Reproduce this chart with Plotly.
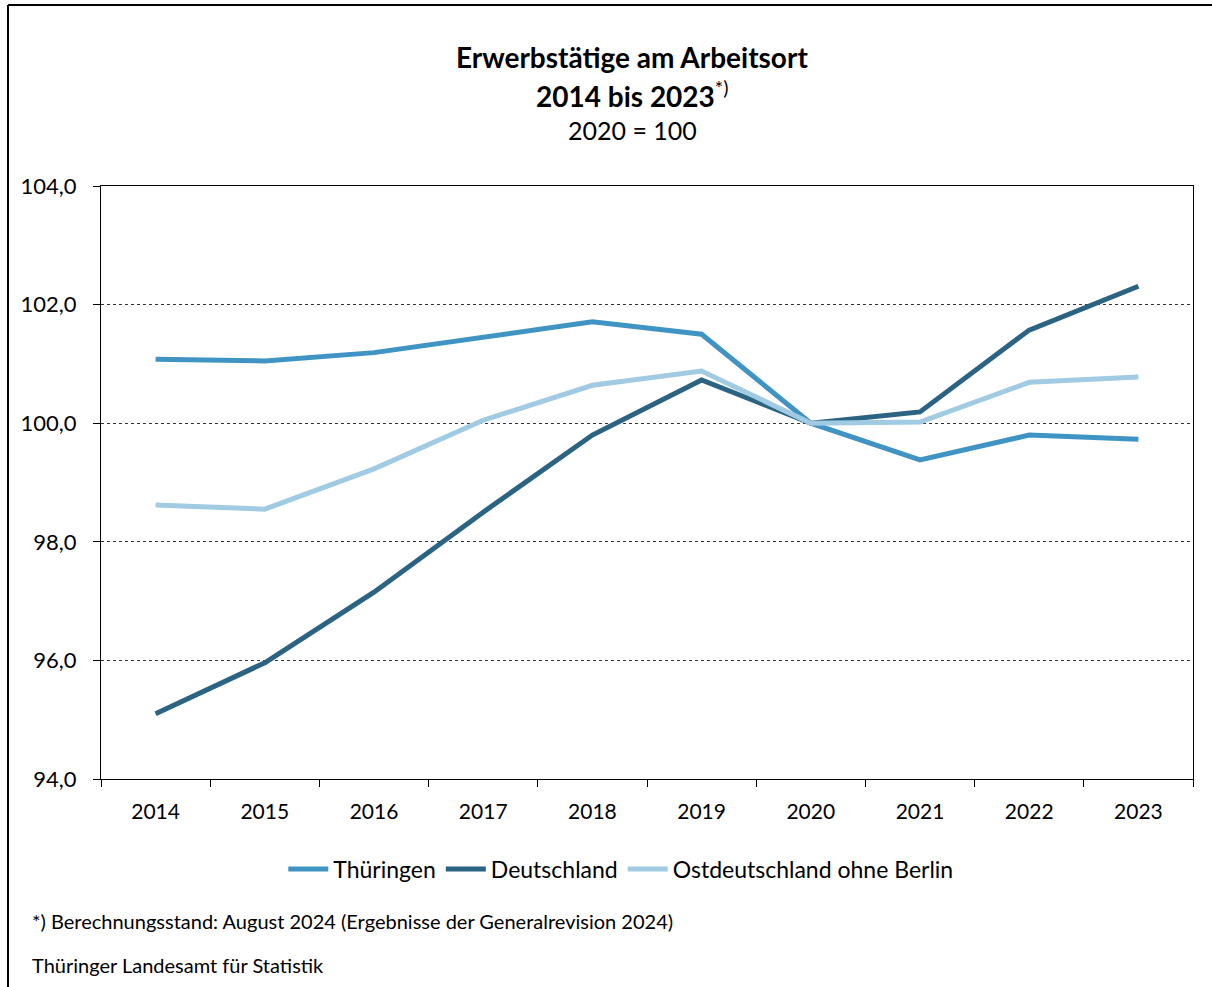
import plotly.graph_objects as go

years = ["2014", "2015", "2016", "2017", "2018", "2019", "2020", "2021", "2022", "2023"]
thueringen = [101.08, 101.05, 101.19, 101.45, 101.71, 101.50, 100.0, 99.38, 99.80, 99.73]
deutschland = [95.10, 95.96, 97.15, 98.50, 99.80, 100.73, 100.0, 100.19, 101.57, 102.31]
ost = [98.62, 98.55, 99.23, 100.05, 100.64, 100.88, 100.0, 100.02, 100.69, 100.78]

FONT = "Source Sans Pro, Lato, Roboto, sans-serif"

fig = go.Figure()
series = [
    ("Thüringen", thueringen, "#4094C4"),
    ("Deutschland", deutschland, "#2B6382"),
    ("Ostdeutschland ohne Berlin", ost, "#A0CBE2"),
]
for name, vals, col in series:
    fig.add_trace(go.Scatter(x=years, y=vals, name=name, mode="lines",
                             line=dict(color=col, width=5)))

L, R, T, B = 101, 19, 186, 208
W, H = 1212, 987
pw, ph = W - L - R, H - T - B

def px_x(p):
    return (p - L) / pw

def px_y(p):
    return (H - B - p) / ph

fig.update_layout(
    width=W, height=H,
    margin=dict(l=L, r=R, t=T, b=B),
    paper_bgcolor="white", plot_bgcolor="white",
    separators=", ",
    font=dict(family=FONT, size=21, color="black"),
    showlegend=True,
    legend=dict(orientation="h", x=0.476, xanchor="center", y=px_y(869), yanchor="middle",
                font=dict(size=23), itemwidth=40, tracegroupgap=0),
    xaxis=dict(type="category", tickson="boundaries", ticks="outside", ticklen=7,
               tickcolor="black", linecolor="black", linewidth=1, showline=True,
               mirror=True, showgrid=False, tickfont=dict(size=21), range=[-0.5, 9.5],
               ticklabelstandoff=14),
    yaxis=dict(range=[94, 104], dtick=2, tickformat=".1f", ticks="outside", ticklen=7,
               tickcolor="black", linecolor="black", linewidth=1, showline=True,
               mirror=True, showgrid=True, gridcolor="#333333", griddash="dot",
               gridwidth=1, zeroline=False, tickfont=dict(size=22),
               ticklabelstandoff=12),
    annotations=[
        dict(text="<b>Erwerbstätige am Arbeitsort</b>", x=px_x(632), y=px_y(57),
             xref="paper", yref="paper", showarrow=False, font=dict(size=28),
             xanchor="center", yanchor="middle"),
        dict(text="<b>2014 bis 2023</b><sup>*)</sup>", x=px_x(632), y=px_y(94),
             xref="paper", yref="paper", showarrow=False, font=dict(size=28),
             xanchor="center", yanchor="middle"),
        dict(text="2020 = 100", x=px_x(632), y=px_y(130),
             xref="paper", yref="paper", showarrow=False, font=dict(size=25),
             xanchor="center", yanchor="middle"),
        dict(text="*) Berechnungsstand: August 2024 (Ergebnisse der Generalrevision 2024)",
             x=px_x(30), y=px_y(921), xref="paper", yref="paper", showarrow=False,
             font=dict(size=20), xanchor="left", yanchor="middle"),
        dict(text="Thüringer Landesamt für Statistik",
             x=px_x(30), y=px_y(965), xref="paper", yref="paper", showarrow=False,
             font=dict(size=20), xanchor="left", yanchor="middle"),
    ],
    shapes=[
        dict(type="line", xref="paper", yref="paper", x0=px_x(8), x1=px_x(8),
             y0=px_y(5), y1=px_y(987), line=dict(color="black", width=2)),
        dict(type="line", xref="paper", yref="paper", x0=px_x(8), x1=px_x(1212),
             y0=px_y(5), y1=px_y(5), line=dict(color="black", width=2)),
    ],
)

fig.write_html("out.html", config={"displayModeBar": False},
               post_script="document.body.style.margin='0';")
